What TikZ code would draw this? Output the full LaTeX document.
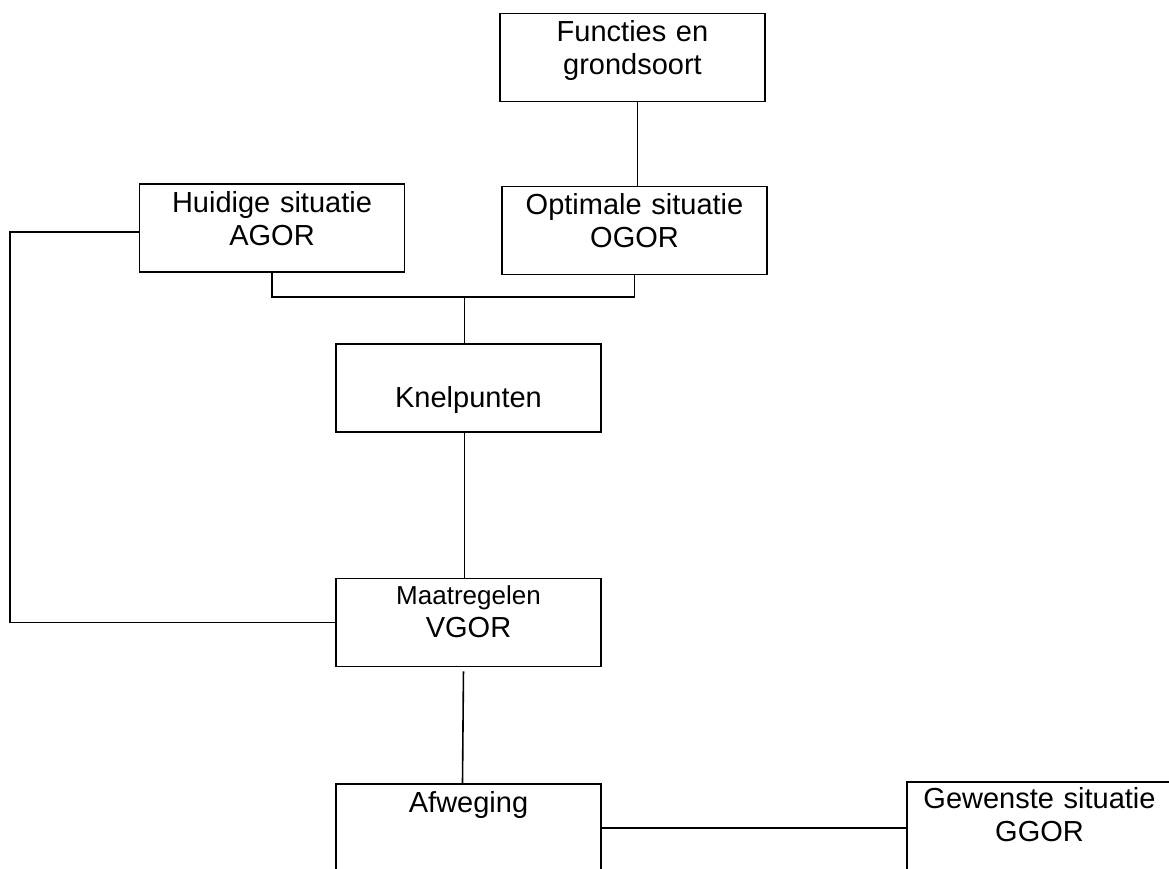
\documentclass[tikz,border=0pt]{standalone}
\usepackage{fontspec}
\setmainfont{Liberation Sans}
\usetikzlibrary{positioning}
\tikzset{
  box/.style={
    % The shape:
    rectangle,
    % The size:
    minimum width=265pt,
    minimum height=88pt,
    inner sep=0pt,
    % The border:
    draw=black,
    line width=1.6pt,
    % The text:
    text width=265pt,
    align=center,
    text height=28pt,
    text depth=60pt,
    font=\fontsize{29}{33}\selectfont},
  single/.style={text height=63pt,text depth=25pt}
}

\begin{document}
\begin{tikzpicture}[x=1pt,y=-1pt,line width=1.6pt,
                    small line/.style={font=\fontsize{26}{33}\selectfont}]
  \useasboundingbox (0,0) rectangle (1169,869);
  \clip (0,0) rectangle (1169,869);

  \node (functies)    [box] at (632.5,57.5)  {Functies en\\grondsoort};
  \node (huidige)     [box] at (272,228)     {Huidige situatie\\AGOR};
  \node (optimale)    [box] at (634.5,230.5) {Optimale situatie\\OGOR};
  \node (knelpunten)  [box,single] at (468.5,388) {Knelpunten};
  \node (maatregelen) [box,text height=26pt,text depth=62pt] at (468.5,622.5)
    {{\fontsize{26}{33}\selectfont Maatregelen}\\VGOR};
  \node (afweging)    [box] at (468.5,828)   {Afweging};
  \node (gewenste)    [box,text height=26pt,text depth=62pt] at (1039.5,826)
    {Gewenste situatie\\GGOR};

  \draw ([xshift=5pt]functies.south) -- ([xshift=3pt]optimale.north);
  \draw (huidige.south) -- ++(0,24) coordinate (fork) -| (optimale.south);
  \draw ([xshift=-4pt]knelpunten.north) -- ([xshift=-4pt]knelpunten.north |- fork);
  \draw ([xshift=-4pt]knelpunten.south) -- ([xshift=-4pt]maatregelen.north);
  \draw ([yshift=-4pt]huidige.west) -- ++(-129,0) |- (maatregelen.west);
  \draw[shorten <=4pt] ([xshift=-5pt]maatregelen.south) -- ([xshift=-6pt]afweging.north);
  \draw (afweging.east) -- (afweging.east -| gewenste.west);
\end{tikzpicture}
\end{document}
